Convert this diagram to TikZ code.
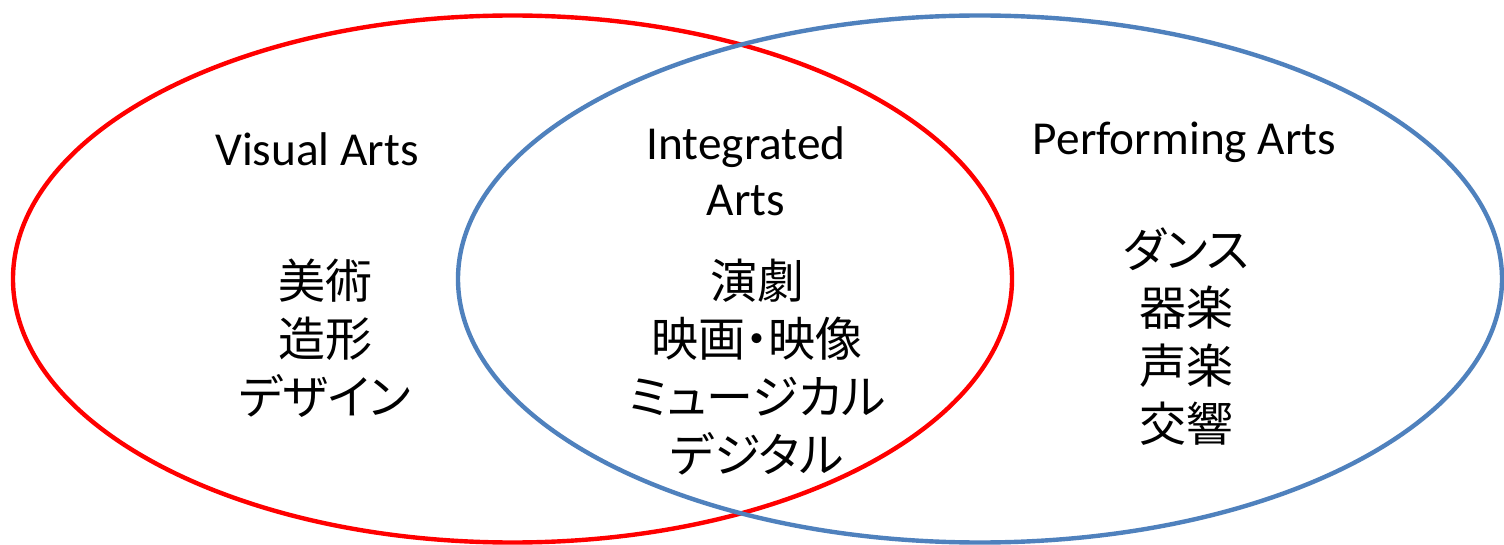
\documentclass[tikz,border=0pt]{standalone}
\usepackage{fontspec}
\setmainfont{Carlito}
\newfontfamily\jp[RawFeature=+palt]{Noto Sans CJK JP}
\definecolor{vred}{HTML}{FF0000}
\definecolor{vblue}{HTML}{4F81BD}
\begin{document}
\begin{tikzpicture}[x=0.5pt,y=-0.5pt,
  ring/.style={line width=2.2pt},
  title/.style={inner sep=0pt,font=\fontsize{23.65}{27.75}\selectfont,align=center},
  items/.style={inner sep=0pt,font=\jp\fontsize{23.5}{29}\selectfont,align=center}]
\useasboundingbox[fill=white] (0,0) rectangle (1504,545);
\draw[ring,vred] (512.5,279) coordinate (rc) ellipse [x radius=249.75pt, y radius=131.75pt];
\draw[ring,vblue] (980,279) coordinate (bc) ellipse [x radius=261pt, y radius=131.75pt];
\node[title,anchor=base] (visual) at (317,166) {Visual Arts};
\node[title,anchor=base] (integrated) at (746,215.5) {Integrated\\Arts};
\node[title,anchor=base] (performing) at (1184.5,155) {Performing Arts};
\node[items] (vitems) at (325,338) {美術\\造形\\デザイン};
\node[items] (iitems) at (757,367) {演劇\\映画・映像\\ミュージカル\\デジタル};
\node[items] (pitems) at (1186,337) {ダンス\\器楽\\声楽\\交響};
\end{tikzpicture}
\end{document}
